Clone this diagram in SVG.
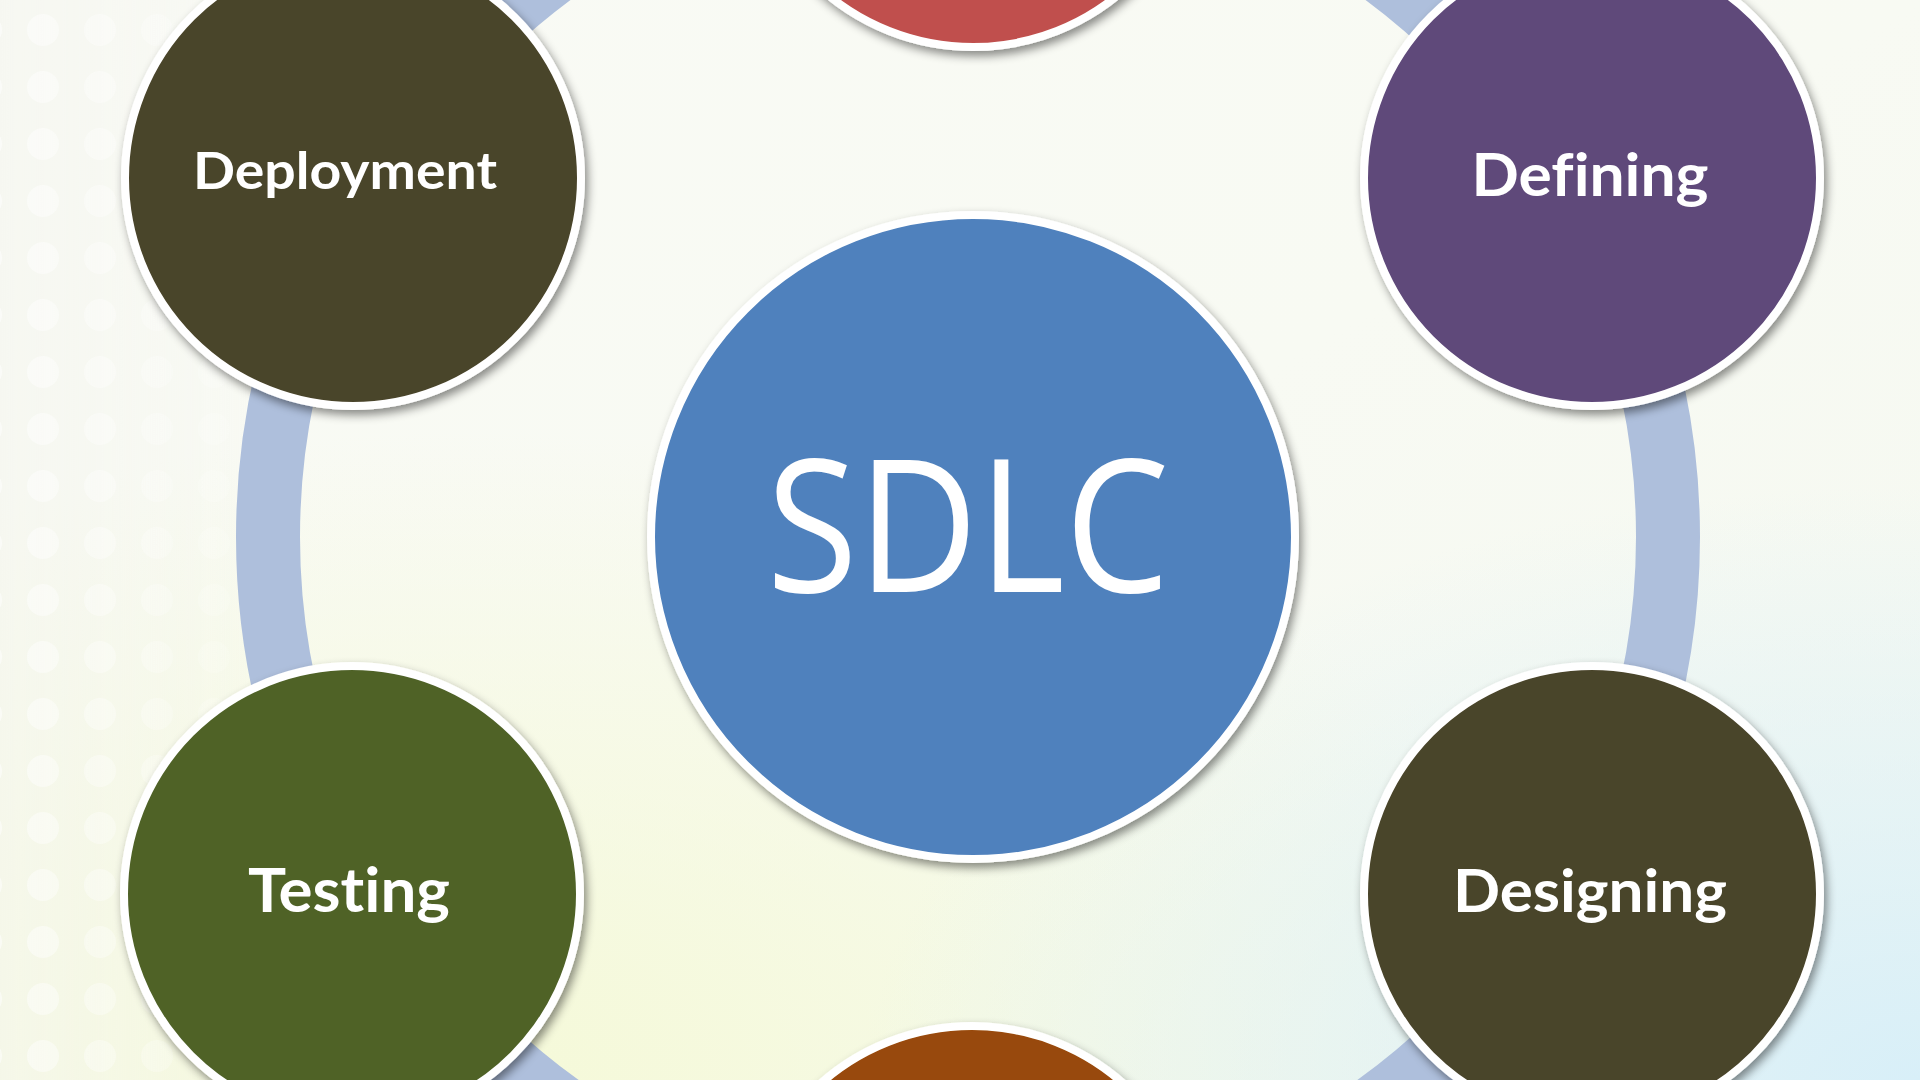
<svg xmlns="http://www.w3.org/2000/svg" width="1920" height="1080" viewBox="0 0 1920 1080">
  <style>
    .node-circle { stroke: #ffffff; stroke-width: 8; filter: url(#shadow); }
    .label { font-family: Lato, "Open Sans", "Liberation Sans", sans-serif; font-weight: bold; fill: #ffffff; text-anchor: middle; font-variant-ligatures: none; font-feature-settings: "liga" 0, "clig" 0; }
    .title { font-family: "Open Sans", "Liberation Sans", sans-serif; font-weight: normal; fill: #ffffff; text-anchor: middle; }
    .ring { fill: none; stroke: #aebfdc; stroke-width: 64; }
  </style>
  <defs>
    <filter id="shadow" x="-20%" y="-20%" width="140%" height="140%">
      <feDropShadow dx="3" dy="5" stdDeviation="5" flood-color="#000000" flood-opacity="0.45"/>
    </filter>
    <linearGradient id="bgBase" x1="0" y1="0" x2="1" y2="1">
      <stop offset="0" stop-color="#f9faf5"/>
      <stop offset="0.5" stop-color="#f8faf3"/>
      <stop offset="1" stop-color="#f4f8f0"/>
    </linearGradient>
    <radialGradient id="bgYellow" cx="0.25" cy="1.0" r="0.6">
      <stop offset="0" stop-color="#f5f9d8" stop-opacity="1"/>
      <stop offset="1" stop-color="#f5f9d8" stop-opacity="0"/>
    </radialGradient>
    <radialGradient id="bgBlue" cx="1.0" cy="1.0" r="0.55">
      <stop offset="0" stop-color="#d8eff8" stop-opacity="1"/>
      <stop offset="1" stop-color="#d8eff8" stop-opacity="0"/>
    </radialGradient>
    <pattern id="dots" x="15" y="2" width="57" height="57" patternUnits="userSpaceOnUse">
      <circle cx="28" cy="28" r="16" fill="#ffffff"/>
    </pattern>
    <linearGradient id="dotFade" x1="0" y1="0" x2="1" y2="0">
      <stop offset="0" stop-color="#ffffff" stop-opacity="1"/>
      <stop offset="1" stop-color="#ffffff" stop-opacity="0"/>
    </linearGradient>
    <mask id="dotMask">
      <rect x="0" y="0" width="300" height="1080" fill="url(#dotFade)"/>
    </mask>
  </defs>

  <g id="background">
    <rect x="0" y="0" width="1920" height="1080" fill="url(#bgBase)"/>
    <rect x="0" y="0" width="1920" height="1080" fill="url(#bgYellow)"/>
    <rect x="0" y="0" width="1920" height="1080" fill="url(#bgBlue)"/>
    <rect x="0" y="0" width="300" height="1080" fill="#f4f5ee" mask="url(#dotMask)" opacity="0.5"/>
    <rect x="0" y="0" width="300" height="1080" fill="url(#dots)" mask="url(#dotMask)" opacity="0.5"/>
  </g>

  <g id="connectors">
    <circle class="ring" cx="968" cy="537" r="700"/>
  </g>

  <g id="node-top">
    <circle class="node-circle" cx="973" cy="-181" r="228" fill="#c0504d"/>
  </g>

  <g id="node-defining">
    <circle class="node-circle" cx="1592" cy="178" r="228" fill="#5f497a"/>
    <text class="label" x="1590" y="196" font-size="60" textLength="237" lengthAdjust="spacingAndGlyphs">Defining</text>
  </g>

  <g id="node-designing">
    <circle class="node-circle" cx="1592" cy="894" r="228" fill="#4a442a"/>
    <text class="label" x="1590" y="912" font-size="60" textLength="274" lengthAdjust="spacingAndGlyphs">Designing</text>
  </g>

  <g id="node-bottom">
    <circle class="node-circle" cx="972" cy="1254" r="228" fill="#984807"/>
  </g>

  <g id="node-testing">
    <circle class="node-circle" cx="352" cy="894" r="228" fill="#4f6228"/>
    <text class="label" x="349" y="912" font-size="62" textLength="202" lengthAdjust="spacingAndGlyphs">Testing</text>
  </g>

  <g id="node-deployment">
    <circle class="node-circle" cx="353" cy="178" r="228" fill="#4a442a"/>
    <text class="label" x="345" y="189" font-size="51" textLength="304" lengthAdjust="spacingAndGlyphs">Deployment</text>
  </g>

  <g id="node-sdlc">
    <circle class="node-circle" cx="973" cy="537" r="322" fill="#4f81bd"/>
    <text class="title" x="968" y="592" font-size="185" textLength="403" lengthAdjust="spacingAndGlyphs">SDLC</text>
  </g>
</svg>
